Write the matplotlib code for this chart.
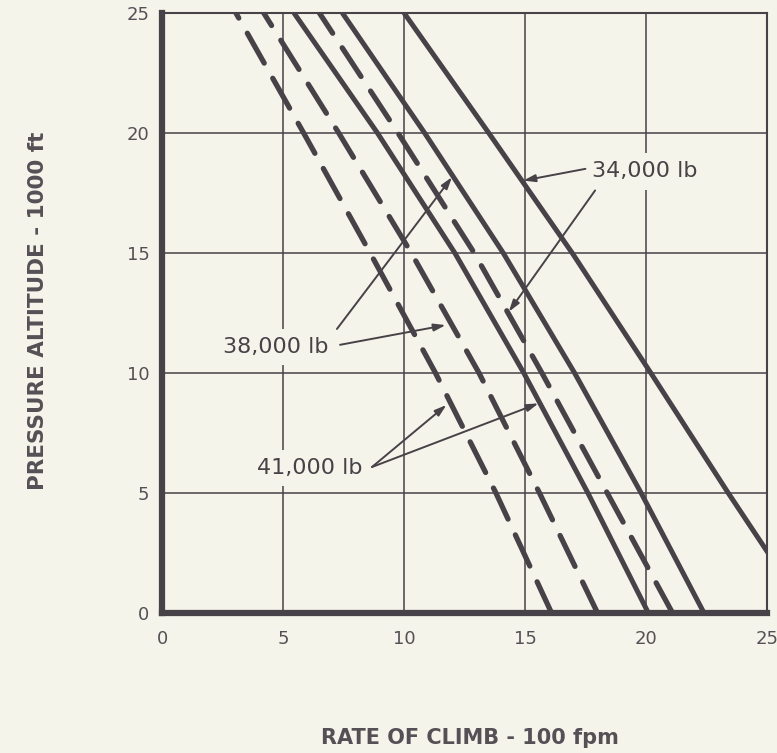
import numpy as np
import matplotlib.pyplot as plt

# pressure altitude (1000 ft) and rate of climb (100 fpm) read at each altitude
alt = [0, 5, 10, 15, 20, 25]
roc_34k_solid = [26.7, 23.4, 20.2, 16.95, 13.5, 10.0]
roc_34k_dash = [21.1, 18.4, 15.7, 12.9, 9.75, 6.5]
roc_38k_solid = [22.4, 19.8, 17.05, 14.1, 10.85, 7.45]
roc_38k_dash = [18.0, 15.6, 13.1, 10.3, 7.3, 4.2]
roc_41k_solid = [20.1, 17.6, 14.95, 12.1, 8.9, 5.45]
roc_41k_dash = [16.1, 13.8, 11.3, 8.6, 5.85, 3.05]

ticks = [0, 5, 10, 15, 20, 25]

BG = '#f4f4ea'
INK = '#474247'
TXT = '#555055'

fig = plt.figure(figsize=(7.77, 7.53), dpi=100, facecolor=BG)
ax = fig.add_axes([0.2085, 0.186, 0.7785, 0.797], facecolor=BG)

solid_kw = dict(color=INK, lw=3.6, solid_capstyle='butt', solid_joinstyle='round', zorder=3)
dash_kw = dict(color=INK, lw=3.8, dashes=(6.5, 3.3), dash_capstyle='round', zorder=3)

ax.plot(roc_34k_solid, alt, **solid_kw)
ax.plot(roc_38k_solid, alt, **solid_kw)
ax.plot(roc_41k_solid, alt, **solid_kw)
ax.plot(roc_34k_dash, alt, **dash_kw)
ax.plot(roc_38k_dash, alt, **dash_kw)
ax.plot(roc_41k_dash, alt, **dash_kw)

ax.set_xlim(0, 25)
ax.set_ylim(0, 25)
ax.set_xticks(ticks)
ax.set_yticks(ticks)
ax.grid(True, color=INK, lw=1.1, zorder=1)
ax.tick_params(length=0, labelsize=13, labelcolor=TXT)
ax.tick_params(axis='x', pad=12)
ax.tick_params(axis='y', pad=9)

for side in ['left', 'bottom']:
    ax.spines[side].set_linewidth(4.5)
    ax.spines[side].set_color(INK)
for side in ['top', 'right']:
    ax.spines[side].set_linewidth(1.5)
    ax.spines[side].set_color(INK)

# axis titles sit well away from the frame
fig.text(0.605, 0.02, 'RATE OF CLIMB - 100 fpm', fontsize=15, fontweight='bold',
         color=TXT, ha='center', va='center')
fig.text(0.049, 0.587, 'PRESSURE ALTITUDE - 1000 ft', fontsize=15.5, fontweight='bold',
         color=TXT, ha='center', va='center', rotation=90)

# weight labels with leader arrows pointing at the curves
arrow = dict(arrowstyle='-|>,head_length=0.7,head_width=0.22', color=INK,
             lw=1.4, shrinkA=0, shrinkB=1)
box = dict(facecolor=BG, edgecolor='none', pad=6)
txt_kw = dict(fontsize=16, color=INK, ha='center', va='center', zorder=5, bbox=box)

ax.text(19.96, 18.4, '34,000 lb', **txt_kw)
ax.annotate('', xy=(np.interp(18.0, alt, roc_34k_solid), 18.0), xytext=(17.5, 18.5),
            arrowprops=arrow, zorder=6)
ax.annotate('', xy=(np.interp(12.5, alt, roc_34k_dash), 12.5), xytext=(17.9, 17.6),
            arrowprops=arrow, zorder=6)

ax.text(4.71, 11.08, '38,000 lb', **txt_kw)
ax.annotate('', xy=(np.interp(18.2, alt, roc_38k_solid), 18.2), xytext=(7.23, 11.83),
            arrowprops=arrow, zorder=6)
ax.annotate('', xy=(np.interp(12.0, alt, roc_38k_dash) - 0.2, 12.0), xytext=(7.36, 11.17),
            arrowprops=arrow, zorder=6)

ax.text(6.1, 6.04, '41,000 lb', **txt_kw)
ax.annotate('', xy=(np.interp(8.7, alt, roc_41k_dash) - 0.15, 8.7), xytext=(8.68, 6.08),
            arrowprops=arrow, zorder=6)
ax.annotate('', xy=(np.interp(8.75, alt, roc_41k_solid), 8.75), xytext=(8.68, 6.08),
            arrowprops=arrow, zorder=6)

fig.savefig('out.png', dpi=100, facecolor=BG)
